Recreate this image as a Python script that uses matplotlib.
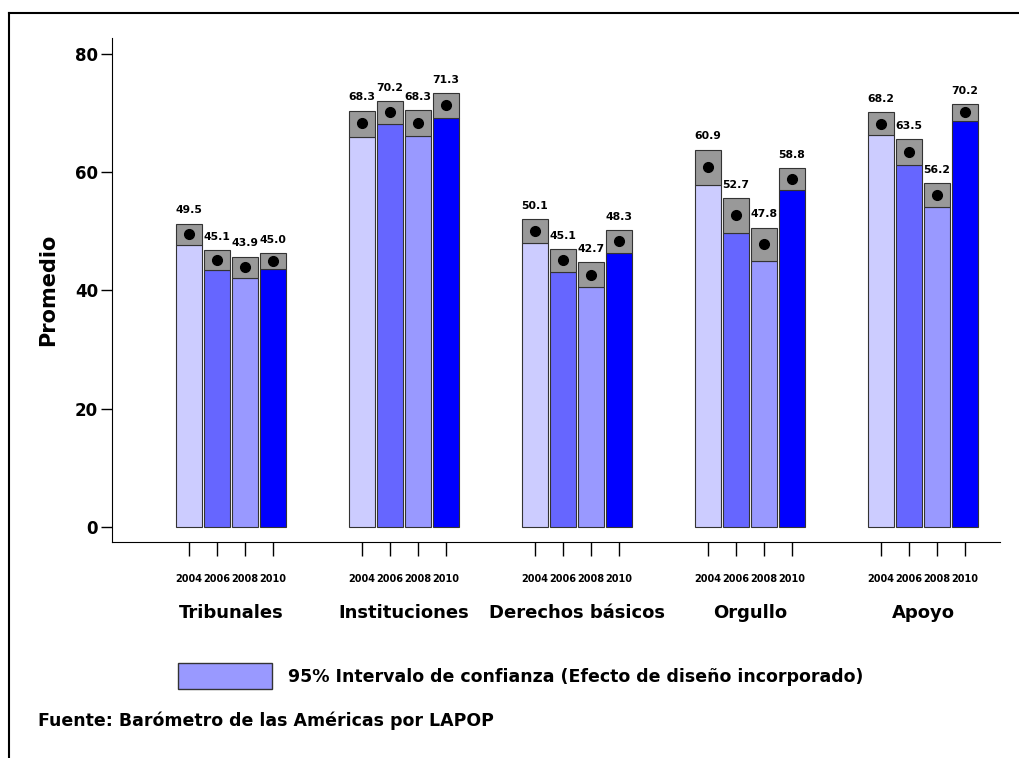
import matplotlib
matplotlib.use('Agg')
import matplotlib.pyplot as plt
from matplotlib.patches import Rectangle
from matplotlib.lines import Line2D

groups = ['Tribunales', 'Instituciones', 'Derechos básicos', 'Orgullo', 'Apoyo']
years = ['2004', '2006', '2008', '2010']
colors = ['#ccccff', '#6666ff', '#9999ff', '#0000ff']

means = [
    [49.5, 45.1, 43.9, 45.0],
    [68.3, 70.2, 68.3, 71.3],
    [50.1, 45.1, 42.7, 48.3],
    [60.9, 52.7, 47.8, 58.8],
    [68.2, 63.5, 56.2, 70.2],
]
ci_low = [
    [47.7, 43.4, 42.1, 43.6],
    [66.0, 68.2, 66.1, 69.2],
    [48.0, 43.1, 40.6, 46.3],
    [57.8, 49.7, 45.0, 57.0],
    [66.3, 61.2, 54.2, 68.7],
]
ci_high = [
    [51.3, 46.8, 45.7, 46.3],
    [70.4, 72.0, 70.5, 73.4],
    [52.1, 47.0, 44.8, 50.2],
    [63.8, 55.6, 50.6, 60.7],
    [70.2, 65.6, 58.2, 71.5],
]

fig = plt.figure(figsize=(10.2, 7.58), dpi=100)
ax = fig.add_axes([112 / 1020, 1 - 542 / 758, 888 / 1020, 504 / 758])

step = 0.162
width = 0.150
tick_pos = []
tick_lab = []
for g in range(len(groups)):
    for j in range(len(years)):
        x = g + (j - 1.5) * step
        lo, hi, m = ci_low[g][j], ci_high[g][j], means[g][j]
        ax.bar(x, lo, width=width, color=colors[j], edgecolor='#333333', linewidth=0.8, zorder=2)
        ax.bar(x, hi - lo, bottom=lo, width=width, color='#999999', edgecolor='#333333', linewidth=0.8, zorder=2)
        ax.plot(x, m, 'o', color='black', markersize=7, zorder=3)
        ax.annotate('%.1f' % m, (x, hi), xytext=(0, 6), textcoords='offset points',
                    ha='center', va='bottom', fontsize=7.8, fontweight='bold')
        tick_pos.append(x)
        tick_lab.append(years[j])
    ax.text(g, -0.141, groups[g], transform=ax.get_xaxis_transform(), ha='center', va='center',
            fontsize=13, fontweight='bold')

ax.set_xlim(-0.688, 4.445)
ax.set_ylim(-2.54, 82.7)
ax.set_yticks([0, 20, 40, 60, 80])
ax.tick_params(axis='y', labelsize=12, length=8, width=1, pad=2)
for t in ax.get_yticklabels():
    t.set_fontweight('bold')
ax.set_xticks(tick_pos)
ax.set_xticklabels(tick_lab, fontsize=7, fontweight='bold')
ax.tick_params(axis='x', length=10, width=1, pad=13)
ax.spines['top'].set_visible(False)
ax.spines['right'].set_visible(False)
ax.set_ylabel('Promedio', fontsize=15, fontweight='bold', labelpad=12)

# legend
fig.patches.append(Rectangle((178 / 1020, 1 - 689 / 758), 94 / 1020, 26 / 758,
                             transform=fig.transFigure, facecolor='#9999ff', edgecolor='#333333', linewidth=1))
fig.text(288 / 1020, 1 - 677 / 758, '95% Intervalo de confianza (Efecto de diseño incorporado)',
         fontsize=12.5, fontweight='bold', va='center')
fig.text(38 / 1020, 1 - 721 / 758, 'Fuente: Barómetro de las Américas por LAPOP',
         fontsize=12.5, fontweight='bold', va='center')

# outer frame
fig.lines.append(Line2D([9.5 / 1020, 9.5 / 1020], [0, 1 - 12.5 / 758], transform=fig.transFigure, color='black', linewidth=1.5))
fig.lines.append(Line2D([9.5 / 1020, 1], [1 - 12.5 / 758, 1 - 12.5 / 758], transform=fig.transFigure, color='black', linewidth=1.5))

plt.savefig('out.png', dpi=100)
